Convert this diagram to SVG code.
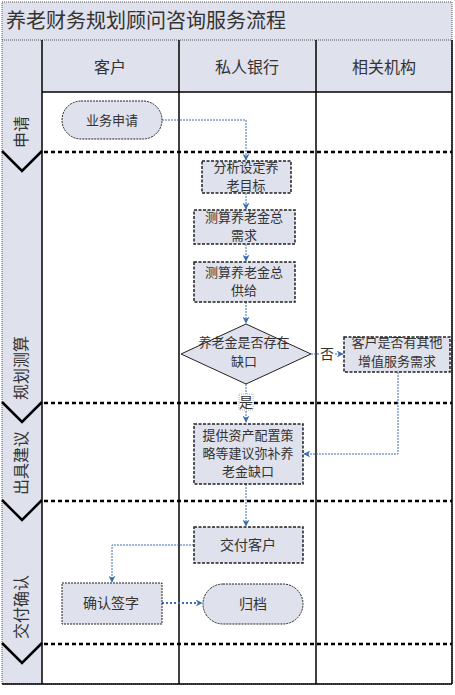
<svg xmlns="http://www.w3.org/2000/svg" width="455" height="695" viewBox="0 0 455 695">
<defs>
<style>
text{font-family:"Noto Sans CJK SC","Liberation Sans",sans-serif;fill:#333;}
.title{font-size:20px;}
.hdr{font-size:16px;text-anchor:middle;}
.ph{font-size:16px;text-anchor:middle;}
.nt{font-size:14px;text-anchor:middle;}
.nm{font-size:13px;text-anchor:middle;}
.band{fill:#dfe1ec;}
.node{fill:#dfe1ec;stroke:#222;stroke-width:1;stroke-dasharray:2 1;}
.node2{fill:#dfe1ec;stroke:#222;stroke-width:1.5;stroke-dasharray:3 1.5;}
.col{stroke:#000;stroke-width:1.5;fill:none;}
.sep{stroke:#000;stroke-width:2.5;stroke-dasharray:4 3;fill:none;}
.vee{stroke:#000;stroke-width:2.5;fill:none;}
.con{stroke:#3c6eb4;stroke-width:1;stroke-dasharray:2 1;fill:none;marker-end:url(#ah);}
</style>
<marker id="ah" viewBox="0 0 10 10" refX="9" refY="5" markerWidth="7" markerHeight="7" orient="auto" markerUnits="userSpaceOnUse">
<path d="M0,0 L10,5 L0,10 L3,5 Z" fill="#3c6eb4"/>
</marker>
</defs>
<rect x="0" y="0" width="455" height="695" fill="#fff"/>
<g id="frame">
<rect class="band" x="2" y="2" width="450" height="90"/>
<rect class="band" x="2" y="92" width="40" height="592"/>
<rect x="2" y="2" width="450" height="682" fill="none" stroke="#555" stroke-width="1" stroke-dasharray="1 1"/>
<line x1="2" y1="40" x2="452" y2="40" stroke="#555" stroke-width="1" stroke-dasharray="1 1"/>
<text class="title" x="6" y="28">养老财务规划顾问咨询服务流程</text>
<line class="col" x1="42" y1="92" x2="452" y2="92"/>
<line class="col" x1="42" y1="40" x2="42" y2="684"/>
<line class="col" x1="179" y1="40" x2="179" y2="684"/>
<line class="col" x1="316" y1="40" x2="316" y2="684"/>
<line class="col" x1="452" y1="40" x2="452" y2="684"/>
<line class="col" x1="2" y1="684" x2="452" y2="684"/>
<text class="hdr" x="110" y="73">客户</text>
<text class="hdr" x="247" y="73">私人银行</text>
<text class="hdr" x="384" y="73">相关机构</text>
</g>
<g id="phases">
<line class="sep" x1="44" y1="152" x2="452" y2="152"/>
<line class="sep" x1="44" y1="403" x2="452" y2="403"/>
<line class="sep" x1="44" y1="501" x2="452" y2="501"/>
<line class="sep" x1="44" y1="644" x2="452" y2="644"/>
<polyline class="vee" points="2,151 22,171 42,151"/>
<polyline class="vee" points="2,402 22,422 42,402"/>
<polyline class="vee" points="2,500 22,520 42,500"/>
<polyline class="vee" points="2,643 22,663 42,643"/>
<text class="ph" transform="translate(27,132) rotate(-90)">申请</text>
<text class="ph" transform="translate(27,368) rotate(-90)">规划测算</text>
<text class="ph" transform="translate(27,463) rotate(-90)">出具建议</text>
<text class="ph" transform="translate(27,607) rotate(-90)">交付确认</text>
</g>
<g id="connectors">
<path class="con" d="M162,120 H246 V160"/>
<path class="con" d="M246,193 V209"/>
<path class="con" d="M246,244 V261"/>
<path class="con" d="M246,302 V323"/>
<path class="con" d="M311,354 H343"/>
<path class="con" d="M246,384 V422"/>
<path class="con" d="M398,372 V454 H304"/>
<path class="con" d="M246,484 V526"/>
<path class="con" d="M194,545 H112 V582"/>
<path class="con" d="M162,603 H202" style="stroke-width:2;stroke-dasharray:2 2"/>
<rect x="320" y="346" width="14" height="16" fill="#fff"/>
<text class="nt" x="327" y="359">否</text>
<rect x="239" y="394" width="14" height="16" fill="#fff" stroke="#999" stroke-width="0.8" stroke-dasharray="1 1"/>
<text class="nt" x="246" y="407">是</text>
</g>
<g id="n-apply">
<rect class="node" x="62" y="101" width="100" height="38" rx="19"/>
<text class="nm" x="112" y="125">业务申请</text>
</g>
<g id="n-goal">
<rect class="node2" x="202" y="161" width="89" height="32"/>
<text class="nm" x="246" y="172">分析设定养</text>
<text class="nm" x="246" y="190">老目标</text>
</g>
<g id="n-demand">
<rect class="node2" x="194" y="210" width="101" height="34"/>
<text class="nm" x="244" y="222">测算养老金总</text>
<text class="nm" x="244" y="240">需求</text>
</g>
<g id="n-supply">
<rect class="node2" x="194" y="262" width="101" height="40"/>
<text class="nm" x="244" y="277">测算养老金总</text>
<text class="nm" x="244" y="295">供给</text>
</g>
<g id="n-gap">
<polygon points="246,324 311,354 246,384 181,354" fill="#dfe1ec" stroke="#222" stroke-width="1"/>
<text class="nm" x="244" y="347">养老金是否存在</text>
<text class="nm" x="244" y="366">缺口</text>
</g>
<g id="n-other">
<rect class="node2" x="344" y="337" width="106" height="35"/>
<text class="nm" x="397" y="347">客户是否有其他</text>
<text class="nm" x="397" y="366">增值服务需求</text>
</g>
<g id="n-advice">
<rect class="node2" x="194" y="424" width="109" height="60"/>
<text class="nm" x="248" y="440">提供资产配置策</text>
<text class="nm" x="248" y="458">略等建议弥补养</text>
<text class="nm" x="248" y="476">老金缺口</text>
</g>
<g id="n-deliver">
<rect class="node2" x="194" y="527" width="109" height="36"/>
<text class="nt" x="248" y="550">交付客户</text>
</g>
<g id="n-sign">
<rect class="node" x="62" y="583" width="100" height="41"/>
<text class="nt" x="111" y="608">确认签字</text>
</g>
<g id="n-archive">
<rect class="node" x="203" y="584" width="100" height="40" rx="20"/>
<text class="nt" x="253" y="609">归档</text>
</g>
</svg>
